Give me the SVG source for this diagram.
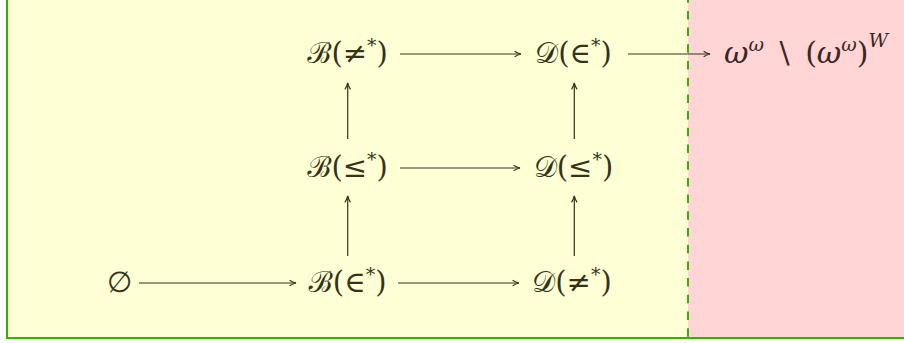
<svg xmlns="http://www.w3.org/2000/svg" width="904" height="343" viewBox="0 0 904 343">
<style>
.t{font-family:"DejaVu Serif","Noto Sans",serif;font-size:29px;fill:#33331a;text-anchor:middle}
.tr{font-family:"DejaVu Serif","Noto Sans",serif;font-size:30px;fill:#3b2525}
.i{font-style:italic}
.s{font-size:19px}
.c{stroke:#33331a;stroke-width:1.2;fill:none}
.g{stroke:#33b300;stroke-width:2;fill:none}
</style>
<defs>
<marker id="ah" viewBox="0 0 10 10" refX="9" refY="5" markerWidth="8" markerHeight="8" markerUnits="userSpaceOnUse" orient="auto">
<path d="M1,1.5 Q5,4 9,5 Q5,6 1,8.5" fill="none" stroke="#33331a" stroke-width="1.4"/>
</marker>
</defs>
<rect x="7" y="-2" width="681" height="339.5" fill="#ffffd5"/>
<rect x="688" y="-2" width="220" height="339.5" fill="#ffd5d5"/>
<line class="g" x1="7" y1="0" x2="7" y2="338"/>
<line class="g" x1="6" y1="338" x2="904" y2="338"/>
<line class="g" x1="688" y1="0" x2="688" y2="337" stroke-dasharray="8.5 8.2" stroke-dashoffset="5.8"/>
<g id="connectors">
<line class="c" x1="400" y1="54" x2="521" y2="54" marker-end="url(#ah)"/>
<line class="c" x1="628" y1="54" x2="710" y2="54" marker-end="url(#ah)"/>
<line class="c" x1="400" y1="168" x2="520" y2="168" marker-end="url(#ah)"/>
<line class="c" x1="139" y1="283" x2="296" y2="283" marker-end="url(#ah)"/>
<line class="c" x1="398" y1="283" x2="519" y2="283" marker-end="url(#ah)"/>
<line class="c" x1="347.7" y1="139" x2="347.7" y2="83" marker-end="url(#ah)"/>
<line class="c" x1="574.3" y1="139" x2="574.3" y2="83" marker-end="url(#ah)"/>
<line class="c" x1="347.7" y1="256" x2="347.7" y2="196" marker-end="url(#ah)"/>
<line class="c" x1="574.3" y1="256" x2="574.3" y2="196" marker-end="url(#ah)"/>
</g>
<g id="n-B-neq"><text class="t" x="347.5" y="63">ℬ(≠<tspan class="s" dy="-11">*</tspan><tspan dy="11">)</tspan></text></g>
<g id="n-D-in"><text class="t" x="573.5" y="63">𝒟(∈<tspan class="s" dy="-11">*</tspan><tspan dy="11">)</tspan></text></g>
<g id="n-omega"><text class="tr" x="724" y="63"><tspan class="i">ω</tspan><tspan class="i s" dy="-12">ω</tspan><tspan dy="12" xml:space="preserve"> &#8201;\&#8201; (</tspan><tspan class="i">ω</tspan><tspan class="i s" dy="-12">ω</tspan><tspan dy="12">)</tspan><tspan class="i s" dy="-16">W</tspan></text></g>
<g id="n-B-le"><text class="t" x="347.5" y="177">ℬ(≤<tspan class="s" dy="-11">*</tspan><tspan dy="11">)</tspan></text></g>
<g id="n-D-le"><text class="t" x="573.5" y="177">𝒟(≤<tspan class="s" dy="-11">*</tspan><tspan dy="11">)</tspan></text></g>
<g id="n-empty"><text class="t" x="119" y="292">∅</text></g>
<g id="n-B-in"><text class="t" x="347.5" y="292">ℬ(∈<tspan class="s" dy="-11">*</tspan><tspan dy="11">)</tspan></text></g>
<g id="n-D-neq"><text class="t" x="572" y="292">𝒟(≠<tspan class="s" dy="-11">*</tspan><tspan dy="11">)</tspan></text></g>
</svg>
